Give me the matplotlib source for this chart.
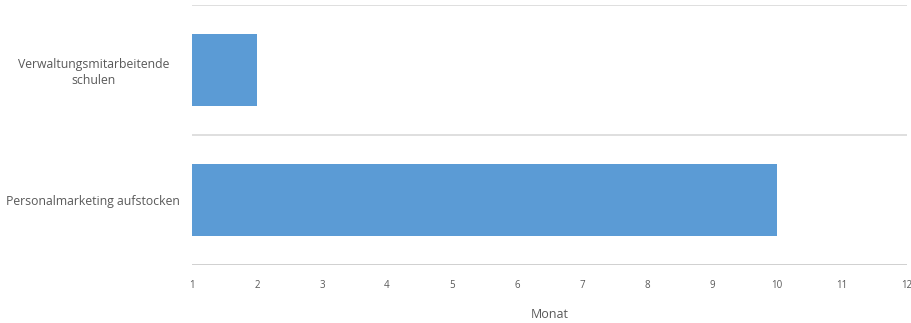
import matplotlib.pyplot as plt

# Gantt-style tasks (start month, end month)
tasks = ['Verwaltungsmitarbeitende\nschulen', 'Personalmarketing aufstocken']
start = [1, 1]
end = [2, 10]
months = list(range(1, 13))

fig = plt.figure(figsize=(9.12, 3.23), dpi=100)
ax = fig.add_axes([0.2105, 0.1796, 0.784, 0.805])

widths = [e - s for s, e in zip(start, end)]
ax.barh(range(len(tasks)), widths, left=start, height=0.55, color='#5b9bd5', zorder=3)

ax.set_xlim(1, 12)
ax.set_ylim(len(tasks) - 0.5, -0.5)

# row separators
for y, c in [(-0.5, '#d9d9d9'), (0.5, '#d9d9d9'), (1.5, '#c8c8c8')]:
    ax.axhline(y, color=c, lw=1.2, zorder=1)

for s in ax.spines.values():
    s.set_visible(False)

ax.set_yticks(range(len(tasks)))
ax.set_yticklabels(tasks, fontsize=8.8, color='#595959', family='Open Sans',
                   ha='center', linespacing=1.3)
ax.tick_params(axis='y', length=0, pad=71)

ax.set_xticks(months)
ax.set_xticklabels([str(m) for m in months], fontsize=7, color='#595959', family='Open Sans')
ax.tick_params(axis='x', length=0, pad=11)
ax.set_xlabel('Monat', fontsize=9, color='#595959', family='Open Sans', labelpad=12)

fig.savefig('out.png', dpi=100)
